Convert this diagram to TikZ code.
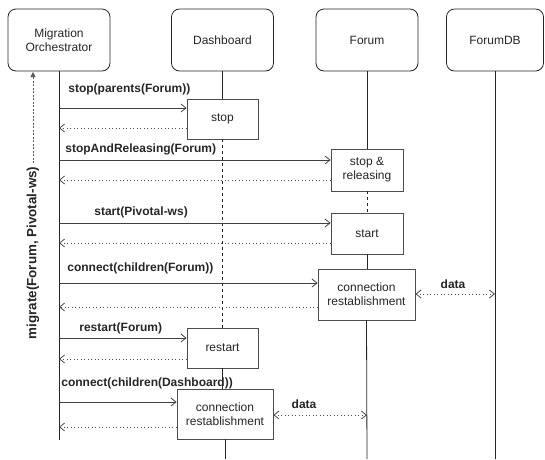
\documentclass[tikz,border=0pt]{standalone}
\usepackage{fontspec}
\setmainfont{Liberation Sans}
\usetikzlibrary{arrows.meta}

\begin{document}
\begin{tikzpicture}[x=1pt, y=-1pt, line width=0.8pt,
  font=\fontsize{12}{14}\selectfont,
  actor/.style={draw=black!85, rounded corners=8pt, minimum width=102pt, minimum height=62pt, align=center, text=black!85},
  act/.style={draw=black!70, fill=white, align=center, inner sep=0pt, text=black!85},
  life/.style={draw=black!85},
  idle/.style={draw=black!85, dash pattern=on 3pt off 3pt},
  msg/.style={draw=black!75, -{Straight Barb[length=5pt,width=8pt]}},
  ret/.style={draw=black!70, dash pattern=on 1pt off 2.5pt, -{Straight Barb[length=5pt,width=8pt]}},
  dat/.style={draw=black!70, dash pattern=on 1pt off 2.5pt, {Straight Barb[length=5pt,width=8pt]}-{Straight Barb[length=5pt,width=8pt]}},
  lbl/.style={font=\fontsize{12}{14}\selectfont\bfseries, inner sep=0pt, text=black!85}]
  \useasboundingbox (0,0) rectangle (545,459);

  % participants
  \node[actor] (orch) at (59,40) {Migration\\Orchestrator};
  \node[actor] (dash) at (222.5,40) {Dashboard};
  \node[actor] (forum) at (367,40) {Forum};
  \node[actor, minimum width=97pt] (db) at (495,40) {ForumDB};

  % activations
  \node[act, minimum width=71pt, minimum height=40pt] (stop) at (222.5,119) {stop};
  \node[act, minimum width=72pt, minimum height=42pt] (stoprel) at (367,170) {stop \&\\releasing};
  \node[act, minimum width=72pt, minimum height=41pt] (start) at (367,233.5) {start};
  \node[act, minimum width=97pt, minimum height=51pt] (conn1) at (366.5,294.5) {connection\\restablishment};
  \node[act, minimum width=71pt, minimum height=40pt] (restart) at (222.5,348) {restart};
  \node[act, minimum width=96pt, minimum height=50pt] (conn2) at (225,414) {connection\\restablishment};

  % lifelines
  \coordinate (orchend) at (59,440);
  \coordinate (dashend) at (225,459);
  \coordinate (forumend) at (367,459);
  \coordinate (dbend) at (495,459);
  \draw[life] (orch.south) -- (orchend);
  \draw[life] (dash.south) -- (stop.north);
  \draw[idle] (stop.south) -- (restart.north);
  \draw[life] (restart.south) -- (restart.south |- conn2.north);
  \draw[life] (conn2.south) -- (dashend);
  \draw[life] (forum.south) -- (stoprel.north);
  \draw[idle] (stoprel.south) -- (start.north);
  \draw[life] (start.south) -- (start.south |- conn1.north);
  \draw[life] (conn1.south) -- (forumend);
  \draw[life] (db.south) -- (dbend);

  % calls and returns
  \coordinate (m1) at (59,108);  \coordinate (r1) at (59,128);
  \coordinate (m2) at (59,160);  \coordinate (r2) at (59,180);
  \coordinate (m3) at (59,223);  \coordinate (r3) at (59,243);
  \coordinate (m4) at (59,283);  \coordinate (r4) at (59,307);
  \coordinate (m5) at (59,338);  \coordinate (r5) at (59,359);
  \coordinate (m6) at (59,402);  \coordinate (r6) at (59,427);
  \draw[msg] (m1) -- (m1 -| stop.west);
  \draw[ret] (r1 -| stop.west) -- (r1);
  \draw[msg] (m2) -- (m2 -| stoprel.west);
  \draw[ret] (r2 -| stoprel.west) -- (r2);
  \draw[msg] (m3) -- (m3 -| start.west);
  \draw[ret] (r3 -| start.west) -- (r3);
  \draw[msg] (m4) -- (m4 -| conn1.west);
  \draw[ret] (r4 -| conn1.west) -- (r4);
  \draw[msg] (m5) -- (m5 -| restart.west);
  \draw[ret] (r5 -| restart.west) -- (r5);
  \draw[msg] (m6) -- (m6 -| conn2.west);
  \draw[ret] (r6 -| conn2.west) -- (r6);

  % call labels
  \node[lbl, anchor=west] (l1) at (68,89) {stop(parents(Forum))};
  \node[lbl, anchor=west] (l2) at (65,149) {stopAndReleasing(Forum)};
  \node[lbl, anchor=west] (l3) at (94,212) {start(Pivotal-ws)};
  \node[lbl, anchor=west] (l4) at (67,268) {connect(children(Forum))};
  \node[lbl, anchor=west] (l5) at (79,328) {restart(Forum)};
  \node[lbl, anchor=west] (l6) at (61,383) {connect(children(Dashboard))};

  % data exchange
  \coordinate (d1) at (0,294);
  \coordinate (d2) at (0,415);
  \draw[dat] (d1 -| conn1.east) -- (d1 -| db.south);
  \draw[dat] (d2 -| conn2.east) -- (d2 -| forum.south);
  \node[lbl] (data1) at (453,284) {data};
  \node[lbl] (data2) at (304,404) {data};

  % overall migration
  \node[lbl, font=\fontsize{13.4}{15}\selectfont\bfseries, rotate=90, inner sep=3pt] (mig) at (33,253) {migrate(Forum, Pivotal-ws)};
  \coordinate (migtop) at (33,72);
  \draw[draw=black!65, dash pattern=on 2pt off 1.5pt, -{Triangle[length=5pt,width=5pt]}] (mig.east) -- (migtop);
\end{tikzpicture}
\end{document}
